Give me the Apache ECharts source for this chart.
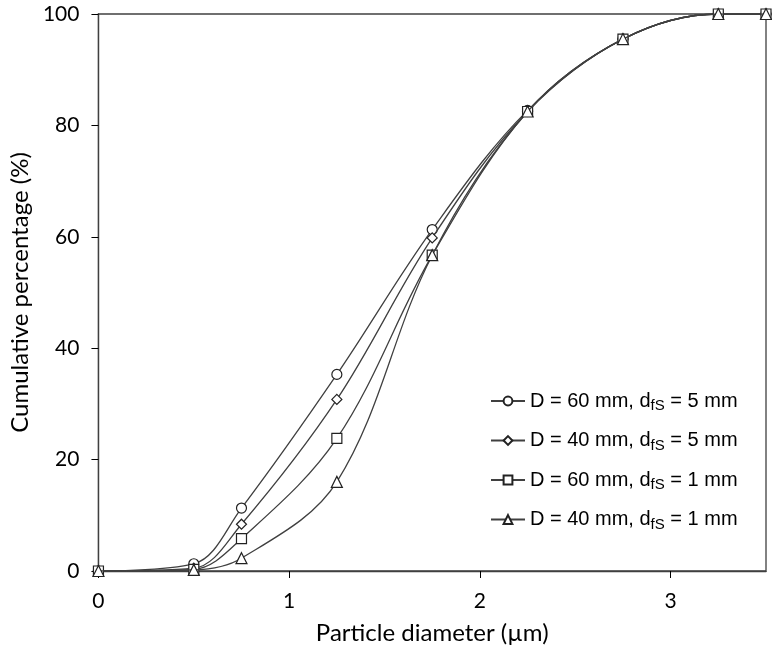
<!DOCTYPE html>
<html><head><meta charset="utf-8">
<script src="https://cdn.jsdelivr.net/npm/echarts@6/dist/echarts.min.js"></script>
<style>html,body{margin:0;padding:0;background:#fff}#c{width:772px;height:653px}</style>
</head><body><div id="c"></div>
<script>
const diameters = [0, 0.5, 0.75, 1.25, 1.75, 2.25, 2.75, 3.25, 3.5];
const d60_5 = [0, 1.3, 11.3, 35.3, 61.3, 82.7, 95.5, 100, 100];
const d40_5 = [0, 0.5, 8.4, 30.8, 59.8, 82.5, 95.5, 100, 100];
const d60_1 = [0, 0.3, 5.8, 23.8, 56.7, 82.5, 95.5, 100, 100];
const d40_1 = [0, 0.2, 2.3, 16.0, 56.7, 82.5, 95.5, 100, 100];
const seriesNames = ['D = 60 mm, dfS = 5 mm', 'D = 40 mm, dfS = 5 mm', 'D = 60 mm, dfS = 1 mm', 'D = 40 mm, dfS = 1 mm'];
const legendParts = [['D = 60 mm, d', 'fS', ' = 5 mm'], ['D = 40 mm, d', 'fS', ' = 5 mm'], ['D = 60 mm, d', 'fS', ' = 1 mm'], ['D = 40 mm, d', 'fS', ' = 1 mm']];
const xTicks = [0, 1, 2, 3];
const yTicks = [0, 20, 40, 60, 80, 100];

const allData = [d60_5, d40_5, d60_1, d40_1];
const symbols = ['circle', 'diamond', 'rect', 'triangle'];
const sizes = [10, 10, 10, 11];

const chart = echarts.init(document.getElementById('c'));
const axisFont = 'Lato, "Open Sans", sans-serif';
chart.setOption({
  animation: false,
  grid: {left: 95, top: 14, right: 6, bottom: 82, containLabel: false, show: true, borderColor: '#404040', borderWidth: 1.3},
  xAxis: {
    type: 'value', min: 0, max: 3.5, interval: 1,
    name: 'Particle diameter (µm)', nameLocation: 'middle', nameGap: 50,
    nameTextStyle: {fontFamily: axisFont, fontSize: 24, color: '#000'},
    axisLine: {lineStyle: {color: '#404040', width: 1.3}},
    axisTick: {show: true, inside: false, length: 7, lineStyle: {color: '#000'}},
    axisLabel: {fontFamily: axisFont, fontSize: 21, color: '#000', margin: 20,
      showMaxLabel: false,
      formatter: v => xTicks.includes(v) ? String(v) : ''},
    splitLine: {show: false}
  },
  yAxis: {
    type: 'value', min: 0, max: 100, interval: 20,
    name: 'Cumulative percentage (%)', nameLocation: 'middle', nameGap: 62,
    nameTextStyle: {fontFamily: axisFont, fontSize: 24, color: '#000'},
    axisLine: {show: true, lineStyle: {color: '#404040', width: 1.3}},
    axisTick: {show: true, inside: false, length: 7, lineStyle: {color: '#000'}},
    axisLabel: {fontFamily: axisFont, fontSize: 21, color: '#000', margin: 19,
      formatter: v => yTicks.includes(v) ? String(v) : ''},
    splitLine: {show: false}
  },
  legend: {
    orient: 'vertical', left: 485, top: 386, itemWidth: 34, itemHeight: 11, itemGap: 17,
    data: seriesNames,
    formatter: name => {
      const p = legendParts[seriesNames.indexOf(name)];
      return '{a|' + p[0] + '}{s|' + p[1] + '}{a|' + p[2] + '}';
    },
    textStyle: {
      color: '#000',
      rich: {
        a: {fontFamily: '"Liberation Sans", Arial, sans-serif', fontSize: 20, color: '#000'},
        s: {fontFamily: '"Liberation Sans", Arial, sans-serif', fontSize: 15, color: '#000', padding: [10, 0, 0, 0]}
      }
    }
  },
  series: allData.map((d, i) => ({
    name: seriesNames[i],
    type: 'line',
    smooth: 0.35,
    data: diameters.map((x, j) => [x, d[j]]),
    symbol: symbols[i],
    symbolSize: sizes[i],
    showAllSymbol: true,
    lineStyle: {color: '#404040', width: 1.3},
    itemStyle: {color: '#fff', borderColor: '#222', borderWidth: 1.2},
    z: 2 + i
  }))
});
</script></body></html>
